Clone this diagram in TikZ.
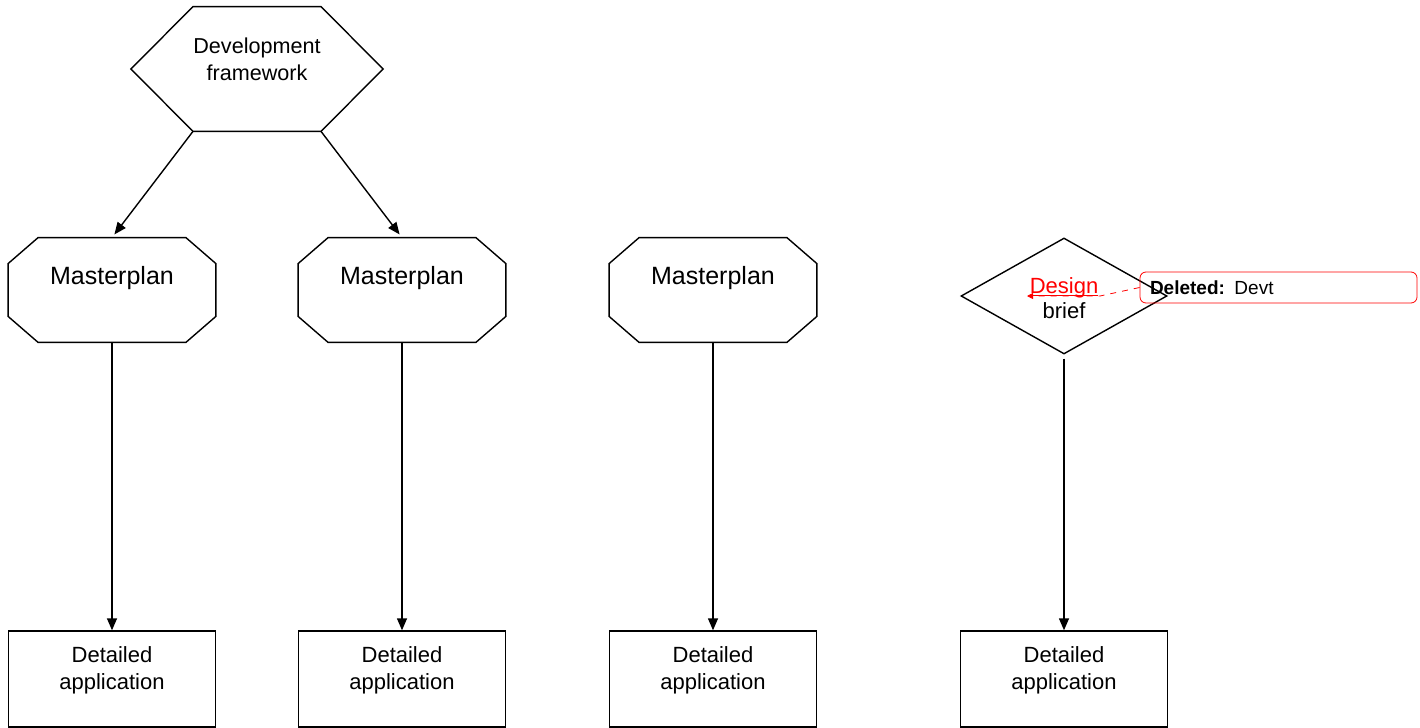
\documentclass[tikz,border=0pt]{standalone}
\usepackage{fontspec}
\setmainfont{Liberation Sans}
\usepackage{tikz}
\usetikzlibrary{shapes.geometric,arrows.meta}
\tikzstyle{hexa}=[rectangle,minimum width=63pt,minimum height=62pt,inner sep=0pt,align=center,text depth=10pt,font=\fontsize{10.8}{13.5}\selectfont]
\tikzstyle{octa}=[rectangle,minimum width=103.5pt,minimum height=52pt,inner sep=0pt,text depth=15pt,font=\fontsize{12.5}{15}\selectfont]
\tikzstyle{detail}=[draw,line width=0.7pt,rectangle,minimum width=103.5pt,minimum height=48pt,inner sep=0pt,align=center,text depth=10.5pt,font=\fontsize{11}{13.5}\selectfont]
\tikzstyle{brief}=[draw,line width=0.7pt,diamond,minimum width=103pt,minimum height=58pt,inner sep=0pt,align=center,text height=22pt,text depth=0pt,font=\fontsize{11}{12.5}\selectfont]
\tikzstyle{note}=[draw=red,rounded corners=3pt,minimum width=138.5pt,minimum height=15.5pt,inner xsep=5pt,inner ysep=0pt,text width=128.5pt,align=left,font=\fontsize{9.5}{11}\selectfont]
\tikzstyle{arr}=[line width=0.7pt,-{Triangle[length=6pt,width=5pt]}]

\begin{document}
\begin{tikzpicture}[x=0.5pt,y=-0.5pt]
  \useasboundingbox (0,0) rectangle (1420,728);

  \node[hexa] (dev) at (257,69) {Development\\framework};
  \draw[line width=0.7pt] (dev.north west) -- (dev.north east) -- ([xshift=31pt]dev.east)
    -- (dev.south east) -- (dev.south west) -- ([xshift=-31pt]dev.west) -- cycle;

  \foreach \i/\x in {1/112,2/402,3/713}{
    \node[octa] (m\i) at (\x,290) {Masterplan};
    \draw[line width=0.7pt] ([xshift=15pt]m\i.north west) -- ([xshift=-15pt]m\i.north east)
      -- ([yshift=-13pt]m\i.north east) -- ([yshift=13pt]m\i.south east)
      -- ([xshift=-15pt]m\i.south east) -- ([xshift=15pt]m\i.south west)
      -- ([yshift=13pt]m\i.south west) -- ([yshift=-13pt]m\i.north west) -- cycle;
    \node[detail] (d\i) at (\x,679) {Detailed\\application};
    \draw[arr] (m\i) -- (d\i);
  }

  \draw[arr,shorten >=2pt] (dev.south west) -- (m1.north);
  \draw[arr,shorten >=2pt] (dev.south east) -- (m2.north);

  % design brief branch
  \node[brief] (db) at (1064,296) {\textcolor{red}{\underline{\smash{Design}}}\\brief};
  \node[detail] (d4) at (1064,679) {Detailed\\application};
  \draw[arr,shorten <=2pt] (db) -- (d4);

  \node[note] (del) at (1278.5,287.5) {\textbf{Deleted:} Devt};
  \coordinate (bend) at (1100,296);
  \coordinate (caret) at (1027,296);
  \draw[red,dashed,-{Triangle[length=3pt,width=3pt]}] (del.west) -- (bend) -- (caret);
\end{tikzpicture}
\end{document}
